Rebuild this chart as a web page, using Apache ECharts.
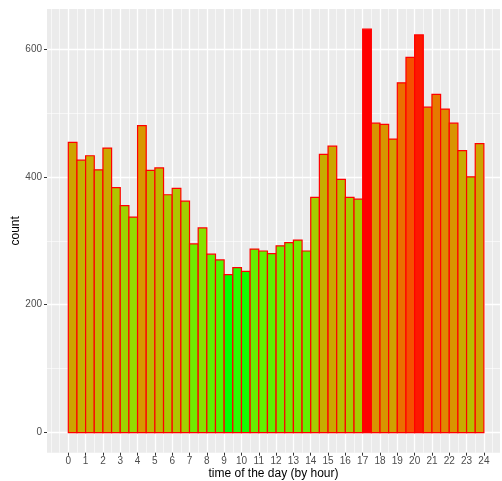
<!DOCTYPE html>
<html>
<head>
<meta charset="utf-8">
<script src="https://cdn.jsdelivr.net/npm/echarts@6/dist/echarts.min.js"></script>
<style>
html,body{margin:0;padding:0;background:#fff;}
#chart{width:502px;height:481px;}
</style>
</head>
<body>
<div id="chart"></div>
<script>
// ---- data ----
var binStarts = [0,0.5,1,1.5,2,2.5,3,3.5,4,4.5,5,5.5,6,6.5,7,7.5,8,8.5,9,9.5,10,10.5,11,11.5,
                 12,12.5,13,13.5,14,14.5,15,15.5,16,16.5,17,17.5,18,18.5,19,19.5,20,20.5,21,21.5,22,22.5,23,23.5];
var binWidth = 0.5;
var counts = [454,426,433,411,445,383,355,337,480,410,414,372,382,362,295,320,279,270,247,258,252,287,284,280,
              292,297,301,284,368,435,448,396,368,365,631,484,482,459,547,587,622,509,529,506,484,441,400,452];
var xTicks = [0,1,2,3,4,5,6,7,8,9,10,11,12,13,14,15,16,17,18,19,20,21,22,23,24];
var xMinor = [-1,-0.5,0.5,1.5,2.5,3.5,4.5,5.5,6.5,7.5,8.5,9.5,10.5,11.5,12.5,13.5,14.5,15.5,16.5,17.5,18.5,19.5,20.5,21.5,22.5,23.5,24.5];
var yTicks = [0,200,400,600];
var yMinor = [100,300,500];
var xTitle = 'time of the day (by hour)';
var yTitle = 'count';

// ---- Lab gradient like ggplot (green -> red) ----
function toLin(c){c/=255;return c<=0.04045?c/12.92:Math.pow((c+0.055)/1.055,2.4);}
function toSrgb(c){c=c<=0.0031308?12.92*c:1.055*Math.pow(c,1/2.4)-0.055;return Math.max(0,Math.min(255,Math.round(c*255)));}
var Xn=0.95047,Yn=1,Zn=1.08883;
function f(t){return t>0.008856?Math.cbrt(t):7.787*t+16/116;}
function fi(t){return t>0.206893?t*t*t:(t-16/116)/7.787;}
function hex2lab(h){
  var r=toLin(parseInt(h.substr(1,2),16)),g=toLin(parseInt(h.substr(3,2),16)),b=toLin(parseInt(h.substr(5,2),16));
  var X=0.4124*r+0.3576*g+0.1805*b,Y=0.2126*r+0.7152*g+0.0722*b,Z=0.0193*r+0.1192*g+0.9505*b;
  var fx=f(X/Xn),fy=f(Y/Yn),fz=f(Z/Zn);
  return [116*fy-16,500*(fx-fy),200*(fy-fz)];
}
function lab2hex(l){
  var fy=(l[0]+16)/116,fx=fy+l[1]/500,fz=fy-l[2]/200;
  var X=Xn*fi(fx),Y=Yn*fi(fy),Z=Zn*fi(fz);
  var r=3.2406*X-1.5372*Y-0.4986*Z,g=-0.9689*X+1.8758*Y+0.0415*Z,b=0.0557*X-0.2040*Y+1.0570*Z;
  function h2(v){var s=toSrgb(v).toString(16);return s.length<2?'0'+s:s;}
  return '#'+h2(r)+h2(g)+h2(b);
}
var lowLab=hex2lab('#00FF00'),highLab=hex2lab('#FF0000');
var stops=[];
for(var i=0;i<=20;i++){var t=i/20;stops.push(lab2hex([lowLab[0]+(highLab[0]-lowLab[0])*t,lowLab[1]+(highLab[1]-lowLab[1])*t,lowLab[2]+(highLab[2]-lowLab[2])*t]));}

var seriesData = binStarts.map(function(s,i){return [s, s+binWidth, counts[i]];});

var chart = echarts.init(document.getElementById('chart'), null, {renderer:'canvas'});
var font = 'Liberation Sans, Arial, Helvetica, sans-serif';
var majorLine = {show:true, lineStyle:{color:'#FFFFFF', width:1.3}};
var minorLine = {show:true, lineStyle:{color:'#FFFFFF', width:0.6}};
var cmin = Math.min.apply(null, counts), cmax = Math.max.apply(null, counts);
var ypad = (cmax - 0) * 0.05;

chart.setOption({
  animation:false,
  backgroundColor:'#FFFFFF',
  grid:{left:47, right:2, top:9, bottom:28.3, show:true, backgroundColor:'#EBEBEB', borderWidth:0,
        containLabel:false, outerBoundsMode:'none'},
  visualMap:{show:false, type:'continuous', dimension:2, seriesIndex:0, min:cmin, max:cmax, inRange:{color:stops}},
  xAxis:[
    {type:'value', min:-1.23, max:24.93, position:'bottom',
     axisLine:{show:false, onZero:false},
     axisTick:{show:true, length:3, lineStyle:{color:'#333333', width:1}, customValues:xTicks},
     axisLabel:{show:true, customValues:xTicks, color:'#4D4D4D', fontSize:10, fontFamily:font, margin:4},
     splitLine:majorLine,
     name:xTitle, nameLocation:'middle', nameGap:15, nameMoveOverlap:false,
     nameTextStyle:{color:'#000000', fontSize:12, fontFamily:font}},
    {type:'value', min:-1.23, max:24.93, position:'bottom',
     axisLine:{show:false, onZero:false}, axisLabel:{show:false},
     axisTick:{show:false, customValues:xMinor},
     splitLine:minorLine}
  ],
  yAxis:[
    {type:'value', min:-ypad, max:cmax+ypad, position:'left',
     axisLine:{show:false, onZero:false},
     axisTick:{show:true, length:3, lineStyle:{color:'#333333', width:1}, customValues:yTicks},
     axisLabel:{show:true, customValues:yTicks, color:'#4D4D4D', fontSize:10, fontFamily:font, margin:5},
     splitLine:majorLine,
     name:yTitle, nameLocation:'middle', nameGap:25, nameRotate:90, nameMoveOverlap:false,
     nameTextStyle:{color:'#000000', fontSize:12, fontFamily:font}},
    {type:'value', min:-ypad, max:cmax+ypad, position:'left',
     axisLine:{show:false, onZero:false}, axisLabel:{show:false},
     axisTick:{show:false, customValues:yMinor},
     splitLine:minorLine}
  ],
  series:[{
    type:'custom', xAxisIndex:0, yAxisIndex:0, z:5,
    encode:{x:[0,1], y:2},
    data:seriesData,
    renderItem:function(params, api){
      var p0 = api.coord([api.value(0), 0]);
      var p1 = api.coord([api.value(1), api.value(2)]);
      return {type:'rect',
        shape:{x:p0[0], y:p1[1], width:p1[0]-p0[0], height:p0[1]-p1[1]},
        style:{fill:api.visual('color'), stroke:'#FF0000', lineWidth:1.2}};
    }
  }]
});
</script>
</body>
</html>
